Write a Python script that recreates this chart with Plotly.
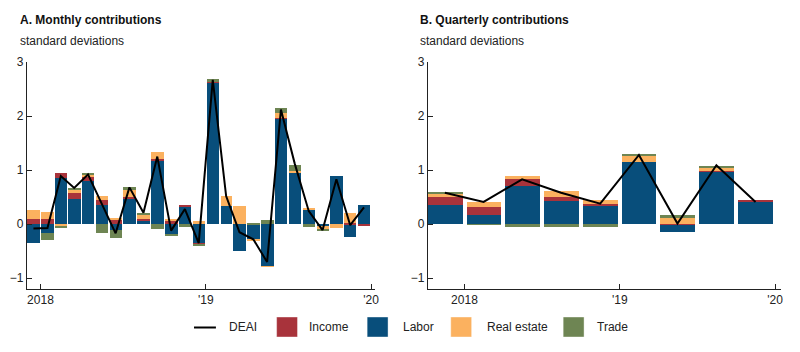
import pandas as pd
import plotly.graph_objects as go

# ---------------- data ----------------
months = ["2017-12", "2018-01", "2018-02", "2018-03", "2018-04", "2018-05", "2018-06",
          "2018-07", "2018-08", "2018-09", "2018-10", "2018-11", "2018-12",
          "2019-01", "2019-02", "2019-03", "2019-04", "2019-05", "2019-06",
          "2019-07", "2019-08", "2019-09", "2019-10", "2019-11", "2019-12"]
labor_m = [-0.35, -0.17, 0.85, 0.47, 0.79, 0.35, -0.11, 0.47, 0.06, 1.18, -0.18, 0.33, -0.35,
           2.62, 0.33, -0.49, -0.27, -0.78, 1.96, 0.94, 0.27, -0.04, 0.90, -0.23, 0.35]
income_m = [0.10, 0.10, 0.09, 0.11, 0.10, 0.09, 0.08, 0.04, 0.04, 0.02, 0.05, 0.01, -0.01,
            0.01, 0.00, 0.00, 0.00, 0.00, 0.01, 0.00, 0.00, 0.00, 0.00, 0.03, -0.02]
realestate_m = [0.16, 0.12, -0.05, 0.05, 0.02, 0.09, 0.02, 0.13, 0.07, 0.13, 0.05, 0.00, 0.05,
                0.00, 0.20, 0.33, -0.05, -0.01, 0.08, 0.05, 0.03, -0.05, -0.07, 0.17, 0.00]
trade_m = [0.00, -0.12, -0.01, 0.04, 0.02, -0.16, -0.14, 0.04, 0.03, -0.09, -0.04, -0.06, -0.04,
           0.05, 0.00, 0.00, 0.03, 0.08, 0.09, 0.10, -0.06, -0.02, 0.00, 0.00, 0.00]
deai_m = [-0.08, -0.07, 0.89, 0.67, 0.92, 0.38, -0.17, 0.68, 0.21, 1.25, -0.12, 0.28, -0.35,
          2.67, 0.52, -0.15, -0.28, -0.70, 2.12, 1.12, 0.24, -0.11, 0.83, -0.02, 0.31]

quarters = ["2017-10", "2018-01", "2018-04", "2018-07", "2018-10",
            "2019-01", "2019-04", "2019-07", "2019-10"]
labor_q = [0.36, 0.17, 0.70, 0.42, 0.33, 1.15, -0.15, 0.98, 0.41]
income_q = [0.15, 0.15, 0.14, 0.08, 0.05, 0.00, 0.01, 0.01, 0.02]
realestate_q = [0.05, 0.09, 0.05, 0.11, 0.07, 0.12, 0.10, 0.04, 0.00]
trade_q = [0.02, -0.01, -0.06, -0.05, -0.06, 0.01, 0.06, 0.05, 0.00]
deai_q = [0.58, 0.41, 0.83, 0.58, 0.38, 1.28, 0.01, 1.09, 0.41]

y_ticks = [-1, 0, 1, 2, 3]
x_tickvals = ["2018-01-01", "2019-01-01", "2020-01-01"]
x_ticktext = ["2018", "'19", "'20"]

# ---------------- style ----------------
W, H = 800, 352
COLORS = {"Income": "#A8333B", "Labor": "#084E7B", "Real estate": "#FBB15F", "Trade": "#6E8553"}
FONT = "Liberation Sans, Arial, Helvetica, sans-serif"
TXT = "#222222"
PLOT_TOP, PLOT_BOT = 62, 289


def px_x(x):
    return x / W


def px_y(y):
    return (PLOT_BOT - y) / (PLOT_BOT - PLOT_TOP)


def widths(starts, freq):
    s = pd.to_datetime(starts)
    e = s + pd.offsets.MonthBegin(freq)
    return [0.9 * (b - a).total_seconds() * 1000 for a, b in zip(s, e)]


fig = go.Figure()

panels = [
    (months, "M1", 1, labor_m, income_m, realestate_m, trade_m, deai_m, "x", "y"),
    (quarters, "M3", 3, labor_q, income_q, realestate_q, trade_q, deai_q, "x2", "y2"),
]
for cats, per, n, lab, inc, re_, tr, deai, xa, ya in panels:
    dates = [c + "-01" for c in cats]
    w = widths(dates, n)
    for name, vals in [("Labor", lab), ("Income", inc), ("Real estate", re_), ("Trade", tr)]:
        fig.add_trace(go.Bar(
            x=dates, y=vals, name=name, width=w,
            xperiod=per, xperiodalignment="middle",
            marker=dict(color=COLORS[name], line=dict(width=0)),
            xaxis=xa, yaxis=ya, showlegend=False))
    fig.add_trace(go.Scatter(
        x=dates, y=deai, name="DEAI", mode="lines",
        xperiod=per, xperiodalignment="middle",
        line=dict(color="black", width=2),
        xaxis=xa, yaxis=ya, showlegend=False))

axis_common = dict(showline=True, linecolor="#222222", linewidth=1, showgrid=False,
                   zeroline=False, ticks="inside", ticklen=5, tickcolor="#222222",
                   tickfont=dict(family=FONT, size=12, color=TXT))

fig.update_layout(
    width=W, height=H, barmode="relative", bargap=0,
    margin=dict(l=0, r=0, t=PLOT_TOP, b=H - PLOT_BOT),
    paper_bgcolor="white", plot_bgcolor="white",
    font=dict(family=FONT, size=12, color=TXT),
    xaxis=dict(domain=[px_x(27), px_x(377)], type="date", anchor="y",
               range=["2017-12-02", "2020-01-10"],
               tickvals=x_tickvals, ticktext=x_ticktext, **axis_common),
    yaxis=dict(domain=[0, 1], anchor="x", range=[-1.2, 3], tickvals=y_ticks, **axis_common),
    xaxis2=dict(domain=[px_x(430), px_x(785)], type="date", anchor="y2",
                range=["2017-10-07", "2020-01-15"],
                tickvals=x_tickvals, ticktext=x_ticktext, **axis_common),
    yaxis2=dict(domain=[0, 1], anchor="x2", range=[-1.2, 3], tickvals=y_ticks, **axis_common),
)

annotations = []
shapes = []
for x0, title in [(18, "<b>A. Monthly contributions</b>"), (420, "<b>B. Quarterly contributions</b>")]:
    annotations.append(dict(x=px_x(x0), y=px_y(20), xref="paper", yref="paper", text=title,
                            showarrow=False, xanchor="left", yanchor="middle",
                            font=dict(family=FONT, size=12, color="#111111")))
    annotations.append(dict(x=px_x(x0), y=px_y(41), xref="paper", yref="paper",
                            text="standard deviations", showarrow=False,
                            xanchor="left", yanchor="middle",
                            font=dict(family=FONT, size=12, color=TXT)))

# legend
LEG_Y = 327
shapes.append(dict(type="line", xref="paper", yref="paper",
                   x0=px_x(195), x1=px_x(217), y0=px_y(LEG_Y + 0.5), y1=px_y(LEG_Y + 0.5),
                   line=dict(color="black", width=2)))
annotations.append(dict(x=px_x(228), y=px_y(LEG_Y), xref="paper", yref="paper", text="DEAI",
                        showarrow=False, xanchor="left", yanchor="middle",
                        font=dict(family=FONT, size=12, color=TXT)))
for name, sx, tx in [("Income", 278, 309), ("Labor", 369, 403),
                     ("Real estate", 453, 487), ("Trade", 566, 598)]:
    shapes.append(dict(type="rect", xref="paper", yref="paper",
                       x0=px_x(sx), x1=px_x(sx + 21), y0=px_y(LEG_Y - 10), y1=px_y(LEG_Y + 10),
                       fillcolor=COLORS[name], line=dict(color="rgba(255,255,255,0.4)", width=1)))
    annotations.append(dict(x=px_x(tx), y=px_y(LEG_Y), xref="paper", yref="paper", text=name,
                            showarrow=False, xanchor="left", yanchor="middle",
                            font=dict(family=FONT, size=12, color=TXT)))

fig.update_layout(annotations=annotations, shapes=shapes)
fig.write_html("out.html")
